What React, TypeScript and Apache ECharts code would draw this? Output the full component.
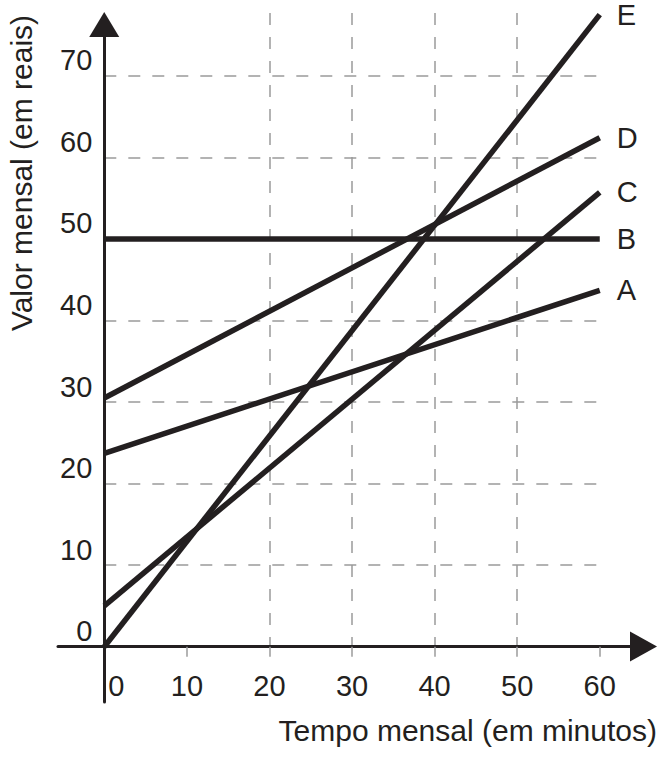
import React, { useEffect, useRef } from 'react';
import * as echarts from 'echarts';

const seriesNames = ['A', 'B', 'C', 'D', 'E'];
const minutes = [0, 60];
const startValues = [23.7, 50, 5, 30.5, 0];
const endValues = [43.7, 50, 55.7, 62.4, 77.5];
const xTicks = [0, 10, 20, 30, 40, 50, 60];
const yTicks = [0, 10, 20, 30, 40, 50, 60, 70];

const INK = '#231f20';
const GRID = '#9b9b9b';
const FONT = '"Liberation Sans", Arial, Helvetica, sans-serif';

const App: React.FC = () => {
  const chartRef = useRef<HTMLDivElement>(null);

  useEffect(() => {
    document.body.style.margin = '0';
    const myChart = echarts.init(chartRef.current!, null, { renderer: 'svg' });

    const dashed = { color: GRID, width: 1.5, type: [12, 12] };

    const option = {
      animation: false,
      textStyle: { fontFamily: FONT },
      grid: [
        // plot area
        { left: 104.3, right: 56, top: 13, bottom: 111.3 },
        // axis lines with arrows, running past the origin
        { left: 58, right: 20.5, top: 24.5, bottom: 56 },
      ],
      xAxis: [
        {
          type: 'value',
          gridIndex: 0,
          min: 0,
          max: 61,
          interval: 10,
          axisLine: { show: false },
          axisTick: {
            show: true,
            customValues: xTicks.slice(1),
            length: 10,
            lineStyle: { color: GRID, width: 1.5 },
          },
          axisLabel: {
            customValues: xTicks,
            fontSize: 29,
            lineHeight: 29,
            color: INK,
            margin: 25,
            formatter: (v: number) => (v === 0 ? '{z|0}' : String(v)),
            rich: {
              z: { padding: [0, 0, 0, 24], fontSize: 29, lineHeight: 29, color: INK, fontFamily: FONT },
            },
          },
          splitLine: { show: true, showMinLine: false, showMaxLine: false, lineStyle: dashed },
        },
        {
          type: 'value',
          gridIndex: 1,
          min: -5.6,
          max: 65.3,
          axisLine: {
            onZero: true,
            symbol: ['none', 'triangle'],
            symbolSize: [30, 27],
            lineStyle: { color: INK, width: 3 },
          },
          axisTick: { show: false },
          axisLabel: { show: false },
          splitLine: { show: false },
        },
      ],
      yAxis: [
        {
          type: 'value',
          gridIndex: 0,
          min: 0,
          max: 77.7,
          interval: 10,
          axisLine: { show: false },
          axisTick: { show: false },
          axisLabel: {
            customValues: yTicks,
            fontSize: 29,
            lineHeight: 31,
            color: INK,
            margin: 12,
            verticalAlign: 'bottom',
          },
          splitLine: { show: true, showMinLine: false, showMaxLine: false, lineStyle: dashed },
        },
        {
          type: 'value',
          gridIndex: 1,
          min: -6.8,
          max: 76.3,
          axisLine: {
            onZero: true,
            symbol: ['none', 'triangle'],
            symbolSize: [30, 25],
            lineStyle: { color: INK, width: 3 },
          },
          axisTick: { show: false },
          axisLabel: { show: false },
          splitLine: { show: false },
        },
      ],
      graphic: [
        {
          type: 'text',
          x: 21,
          y: 173,
          rotation: Math.PI / 2,
          style: {
            text: 'Valor mensal (em reais)',
            fontSize: 30,
            fontFamily: FONT,
            fill: INK,
            align: 'center',
            verticalAlign: 'middle',
          },
        },
        {
          type: 'text',
          x: 657,
          y: 730,
          style: {
            text: 'Tempo mensal (em minutos)',
            fontSize: 30,
            fontFamily: FONT,
            fill: INK,
            align: 'right',
            verticalAlign: 'middle',
          },
        },
      ],
      series: seriesNames.map((name, i) => ({
        name,
        type: 'line',
        xAxisIndex: 0,
        yAxisIndex: 0,
        data: [
          [minutes[0], startValues[i]],
          [minutes[1], endValues[i]],
        ],
        symbol: 'none',
        clip: false,
        z: 3,
        lineStyle: { color: INK, width: 5.5 },
        itemStyle: { color: INK },
        endLabel: {
          show: true,
          formatter: '{a}',
          fontSize: 29,
          fontFamily: FONT,
          color: INK,
          distance: 17,
        },
      })),
    };

    myChart.setOption(option);

    return () => {
      myChart.dispose();
    };
  }, []);

  return <div ref={chartRef} style={{ width: '664px', height: '758px' }} />;
};

export default App;
